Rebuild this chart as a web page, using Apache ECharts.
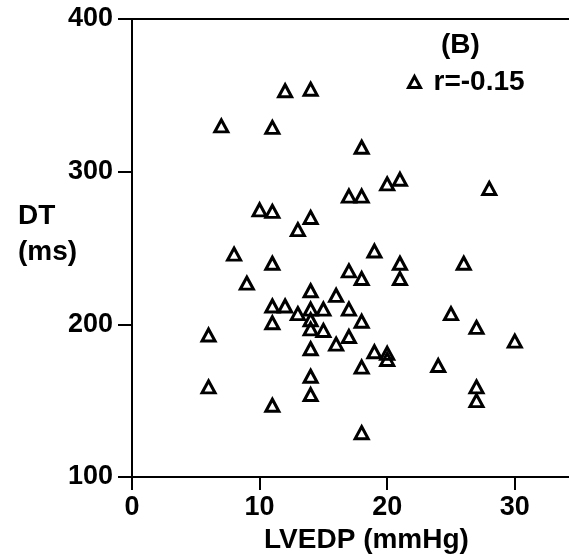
<!DOCTYPE html>
<html>
<head>
<meta charset="utf-8">
<script src="https://cdn.jsdelivr.net/npm/echarts@6/dist/echarts.min.js"></script>
<style>
  html, body { margin: 0; padding: 0; background: #fff; }
  #main { width: 569px; height: 559px; }
</style>
</head>
<body>
<div id="main"></div>
<script>
// LVEDP (mmHg) vs DT (ms)
var lvedp = [12, 14, 7, 11, 18, 20, 21, 28, 17, 18,
             10, 11, 14, 13, 8, 11, 19, 21, 26, 17,
             18, 21, 9, 14, 16, 11, 12, 13, 14, 15,
             17, 11, 14, 14, 15, 18, 17, 16, 14, 19,
             20, 20, 18, 14, 14, 6, 6, 11, 18, 24,
             25, 27, 30, 27, 27];
var dt = [353, 354, 330, 329, 316, 292, 295, 289, 284, 284,
          275, 274, 270, 262, 246, 240, 248, 240, 240, 235,
          230, 230, 227, 222, 219, 212, 212, 207, 210, 210,
          210, 201, 203, 197, 196, 202, 192, 187, 184, 182,
          181, 177, 172, 166, 154, 193, 159, 147, 129, 173,
          207, 198, 189, 159, 150];
var xTicks = [0, 10, 20, 30];
var yTicks = [100, 200, 300, 400];
var seriesName = 'r=-0.15';
var panelLabel = '(B)';

var points = [];
for (var i = 0; i < lvedp.length; i++) {
    points.push([lvedp[i], dt[i]]);
}

var font = 'Liberation Sans, Arial, Helvetica, sans-serif';
var xMax = 34.25;

var chart = echarts.init(document.getElementById('main'));
chart.setOption({
    animation: false,
    backgroundColor: '#fff',
    title: {
        text: panelLabel,
        left: 441,
        top: 30,
        padding: 0,
        textStyle: { fontFamily: font, fontWeight: 'bold', fontSize: 28, lineHeight: 30, color: '#000' }
    },
    legend: {
        data: [seriesName],
        left: 407,
        top: 67,
        padding: 0,
        icon: 'triangle',
        itemWidth: 12,
        itemHeight: 11,
        itemStyle: { color: 'rgba(255,255,255,0)', borderColor: '#000', borderWidth: 3, opacity: 1 },
        textStyle: { fontFamily: font, fontWeight: 'bold', fontSize: 28, lineHeight: 30, color: '#000', padding: [0, 0, 0, 8] }
    },
    // y axis title sits left-aligned at the page edge, as in the figure
    graphic: [{
        type: 'text',
        left: 18,
        top: 198,
        style: { text: 'DT\n(ms)', fontFamily: font, fontWeight: 'bold', fontSize: 28, lineHeight: 36, fill: '#000' }
    }],
    grid: { left: 132, right: 0, top: 19, bottom: 82 },
    xAxis: [{
        type: 'value',
        min: 0,
        max: xMax,
        interval: 10,
        name: 'LVEDP (mmHg)',
        nameLocation: 'middle',
        nameGap: 46,
        nameTextStyle: { fontFamily: font, fontWeight: 'bold', fontSize: 28, color: '#000', padding: [0, 0, 0, 32] },
        splitLine: { show: false },
        axisLine: { lineStyle: { color: '#000', width: 2 } },
        axisTick: { length: 13, lineStyle: { color: '#000', width: 2 } },
        axisLabel: {
            margin: 17,
            showMaxLabel: false,
            fontFamily: font, fontWeight: 'bold', fontSize: 27, color: '#000',
            formatter: function (v) { return xTicks.indexOf(v) >= 0 ? String(v) : ''; }
        }
    }, {
        type: 'value',
        position: 'top',
        min: 0,
        max: xMax,
        splitLine: { show: false },
        axisLine: { show: true, lineStyle: { color: '#000', width: 2 } },
        axisTick: { show: false },
        axisLabel: { show: false }
    }],
    yAxis: {
        type: 'value',
        min: 100,
        max: 400,
        interval: 100,
        splitLine: { show: false },
        axisLine: { lineStyle: { color: '#000', width: 2 } },
        axisTick: { length: 14, lineStyle: { color: '#000', width: 2 } },
        axisLabel: {
            margin: 19,
            fontFamily: font, fontWeight: 'bold', fontSize: 27, color: '#000',
            formatter: function (v) { return yTicks.indexOf(v) >= 0 ? String(v) : ''; }
        }
    },
    series: [{
        name: seriesName,
        type: 'scatter',
        symbol: 'triangle',
        symbolSize: [13, 12],
        itemStyle: { color: 'rgba(255,255,255,0)', borderColor: '#000', borderWidth: 3, opacity: 1 },
        emphasis: { disabled: true },
        data: points
    }]
});
</script>
</body>
</html>
